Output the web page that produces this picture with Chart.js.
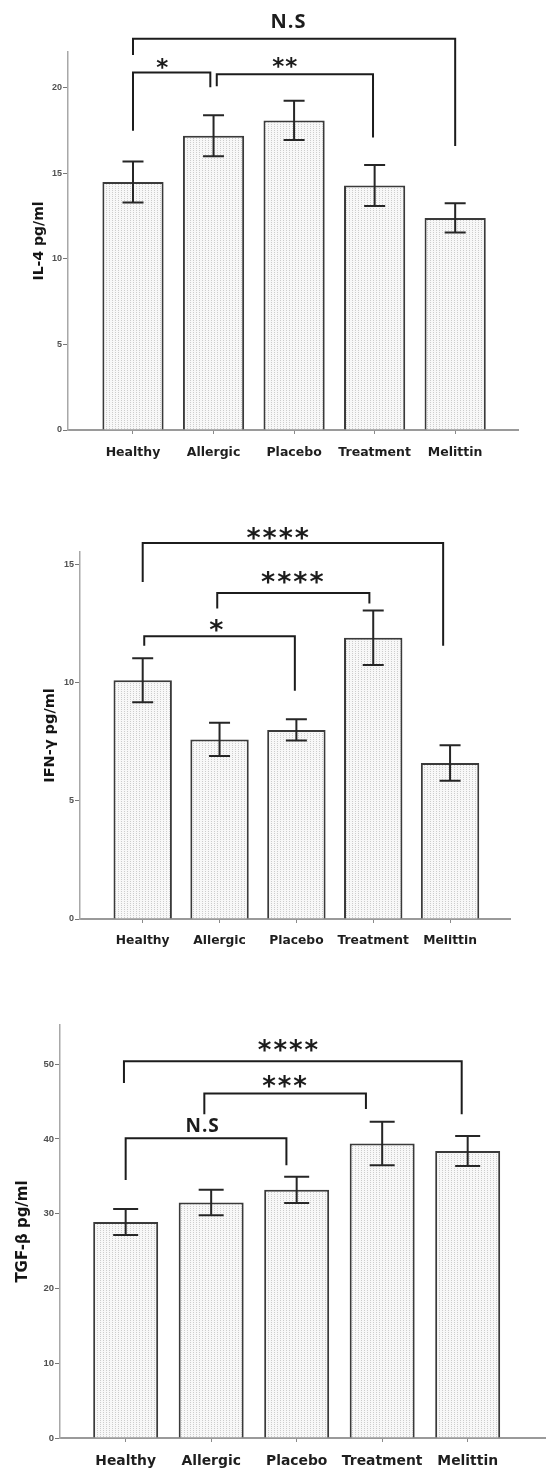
<!DOCTYPE html>
<html>
<head>
<meta charset="utf-8">
<script src="https://cdn.jsdelivr.net/npm/chart.js@4.4.0/dist/chart.umd.min.js"></script>
<style>
    html, body { margin: 0; padding: 0; background: #fff; }
    canvas { display: block; }
</style>
</head>
<body>
<canvas id="il4Chart" width="546" height="475"></canvas>
<canvas id="ifnChart" width="546" height="475"></canvas>
<canvas id="tgfChart" width="546" height="522"></canvas>
<script>
const categories = ['Healthy', 'Allergic', 'Placebo', 'Treatment', 'Melittin'];

const il4Means = [14.5, 17.2, 18.1, 14.3, 12.4];
const il4Errors = [1.2, 1.2, 1.15, 1.2, 0.85];
const il4Ticks = [0, 5, 10, 15, 20];

const ifnMeans = [10.1, 7.6, 8.0, 11.9, 6.6];
const ifnErrors = [0.93, 0.7, 0.45, 1.15, 0.75];
const ifnTicks = [0, 5, 10, 15];

const tgfMeans = [28.9, 31.5, 33.2, 39.4, 38.4];
const tgfErrors = [1.75, 1.7, 1.75, 2.9, 2.0];
const tgfTicks = [0, 10, 20, 30, 40, 50];

// significance brackets: from/to/at in category units, y values in data units
const il4Brackets = [
    {from: 0, to: 4, y: 22.87, leftEnd: 21.93, rightEnd: 16.6, text: 'N.S', at: 1.93, gap: 11},
    {from: 0, to: 0.96, y: 20.9, leftEnd: 17.5, rightEnd: 20.04, text: '*', at: 0.37, gap: 4},
    {from: 1.04, to: 2.98, y: 20.8, leftEnd: 20.1, rightEnd: 17.1, text: '**', at: 1.89, gap: 6}
];
const ifnBrackets = [
    {from: 0, to: 3.91, y: 15.91, leftEnd: 14.26, rightEnd: 11.56, text: '****', at: 1.77, gap: 3},
    {from: 0.97, to: 2.95, y: 13.8, leftEnd: 13.14, rightEnd: 13.35, text: '****', at: 1.96, gap: 9},
    {from: 0.02, to: 1.98, y: 11.97, leftEnd: 11.56, rightEnd: 9.66, text: '*', at: 0.97, gap: 4}
];
const tgfBrackets = [
    {from: -0.02, to: 3.93, y: 50.4, leftEnd: 47.5, rightEnd: 43.3, text: '****', at: 1.91, gap: 9},
    {from: 0.92, to: 2.81, y: 46.1, leftEnd: 43.3, rightEnd: 44.0, text: '***', at: 1.87, gap: 5},
    {from: 0, to: 1.88, y: 40.1, leftEnd: 34.5, rightEnd: 36.5, text: 'N.S', at: 0.9, gap: 6}
];

function dotPattern(ctx) {
    const tile = document.createElement('canvas');
    tile.width = 3;
    tile.height = 2;
    const g = tile.getContext('2d');
    g.fillStyle = '#f8f8f8';
    g.fillRect(0, 0, 3, 2);
    g.fillStyle = '#cdcdcd';
    g.fillRect(1, 0, 1, 1);
    return ctx.createPattern(tile, 'repeat');
}

const annotatePlugin = {
    id: 'annotate',
    afterDraw(chart, args, opts) {
        const ctx = chart.ctx;
        const x = chart.scales.x;
        const y = chart.scales.y;
        const meta = chart.getDatasetMeta(0);
        const means = chart.data.datasets[0].data.map(p => p.y);

        ctx.save();
        ctx.strokeStyle = '#262626';
        ctx.lineWidth = 2;
        // error bars
        meta.data.forEach((bar, i) => {
            const top = y.getPixelForValue(means[i] + opts.errors[i]);
            const bottom = y.getPixelForValue(means[i] - opts.errors[i]);
            ctx.beginPath();
            ctx.moveTo(bar.x, top);
            ctx.lineTo(bar.x, bottom);
            ctx.moveTo(bar.x - opts.cap, top);
            ctx.lineTo(bar.x + opts.cap, top);
            ctx.moveTo(bar.x - opts.cap, bottom);
            ctx.lineTo(bar.x + opts.cap, bottom);
            ctx.stroke();
        });

        // brackets
        ctx.strokeStyle = '#1c1c1c';
        ctx.fillStyle = '#1c1c1c';
        ctx.textAlign = 'center';
        ctx.textBaseline = 'alphabetic';
        opts.brackets.forEach(b => {
            const x1 = x.getPixelForValue(b.from);
            const x2 = x.getPixelForValue(b.to);
            const yl = y.getPixelForValue(b.y);
            ctx.beginPath();
            ctx.moveTo(x1, y.getPixelForValue(b.leftEnd));
            ctx.lineTo(x1, yl);
            ctx.lineTo(x2, yl);
            ctx.lineTo(x2, y.getPixelForValue(b.rightEnd));
            ctx.stroke();

            const isStar = b.text.indexOf('*') >= 0;
            ctx.font = isStar ? opts.starFont : opts.textFont;
            ctx.letterSpacing = isStar ? opts.starSpacing : '1px';
            const m = ctx.measureText(b.text);
            ctx.fillText(b.text, x.getPixelForValue(b.at), yl - b.gap - m.actualBoundingBoxDescent);
        });
        ctx.restore();
    }
};

function makeChart(id, s) {
    const ctx = document.getElementById(id).getContext('2d');
    return new Chart(ctx, {
        type: 'bar',
        data: {
            datasets: [{
                data: s.means.map((v, i) => ({x: i, y: v})),
                backgroundColor: dotPattern(ctx),
                borderColor: '#3a3a3a',
                borderWidth: 2,
                barPercentage: 1,
                categoryPercentage: 0.76
            }]
        },
        options: {
            responsive: false,
            animation: false,
            layout: {
                padding: {top: s.top, right: s.right, left: 0, bottom: 0}
            },
            plugins: {
                legend: {display: false},
                tooltip: {enabled: false},
                annotate: {
                    errors: s.errors,
                    cap: s.cap,
                    brackets: s.brackets,
                    starFont: s.starFont,
                    starSpacing: s.starSpacing,
                    textFont: s.textFont
                }
            },
            scales: {
                x: {
                    type: 'linear',
                    offset: false,
                    min: s.xMin,
                    max: s.xMax,
                    afterBuildTicks: scale => {
                        scale.ticks = categories.map((c, i) => ({value: i}));
                    },
                    afterFit: scale => {
                        scale.height = s.xHeight;
                    },
                    grid: {
                        offset: false,
                        drawOnChartArea: false,
                        tickLength: 4,
                        color: '#8a8a8a'
                    },
                    border: {color: '#9a9a9a', width: 2},
                    ticks: {
                        includeBounds: false,
                        maxRotation: 0,
                        autoSkip: false,
                        padding: s.xPad,
                        color: '#1e1e1e',
                        font: {family: 'DejaVu Sans', weight: 'bold', size: s.xFont},
                        callback: value => categories[value]
                    }
                },
                y: {
                    min: 0,
                    max: s.yMax,
                    afterBuildTicks: scale => {
                        scale.ticks = s.ticks.map(v => ({value: v}));
                    },
                    afterFit: scale => {
                        scale.width = s.yWidth;
                    },
                    grid: {
                        drawOnChartArea: false,
                        tickLength: 5,
                        color: '#777'
                    },
                    border: {color: '#a8a8a8', width: 1.5},
                    ticks: {
                        padding: 1,
                        color: '#505050',
                        font: {family: 'Liberation Sans', weight: 'bold', size: s.yFont}
                    },
                    title: {
                        display: true,
                        text: s.title,
                        color: '#151515',
                        padding: {top: s.titlePad, bottom: 0},
                        font: {family: 'DejaVu Sans', weight: 'bold', size: s.titleFont}
                    }
                }
            }
        },
        plugins: [annotatePlugin]
    });
}

makeChart('il4Chart', {
    means: il4Means, errors: il4Errors, ticks: il4Ticks, brackets: il4Brackets,
    title: 'IL-4 pg/ml', titleFont: 14, titlePad: 30.5,
    top: 52, right: 28, yWidth: 68, xHeight: 45, yMax: 22.1,
    xMin: -0.807, xMax: 4.78, xFont: 12.5, xPad: 11, yFont: 9, cap: 10.5,
    starFont: 'bold 23px "DejaVu Sans"', starSpacing: '1px', textFont: 'bold 20px "Open Sans"'
});

makeChart('ifnChart', {
    means: ifnMeans, errors: ifnErrors, ticks: ifnTicks, brackets: ifnBrackets,
    title: 'IFN-γ pg/ml', titleFont: 14.5, titlePad: 42,
    top: 77, right: 36, yWidth: 80, xHeight: 31, yMax: 15.53,
    xMin: -0.816, xMax: 4.78, xFont: 12.3, xPad: 10, yFont: 9, cap: 10.5,
    starFont: 'bold 27px "DejaVu Sans"', starSpacing: '2px', textFont: 'bold 19px "Open Sans"'
});

makeChart('tgfChart', {
    means: tgfMeans, errors: tgfErrors, ticks: tgfTicks, brackets: tgfBrackets,
    title: 'TGF-β pg/ml', titleFont: 15, titlePad: 14.5,
    top: 75, right: 0, yWidth: 60, xHeight: 34, yMax: 55.25,
    xMin: -0.768, xMax: 4.916, xFont: 13.9, xPad: 11.5, yFont: 9.5, cap: 12.5,
    starFont: 'bold 26px "DejaVu Sans"', starSpacing: '2px', textFont: 'bold 19px "Open Sans"'
});
</script>
</body>
</html>
